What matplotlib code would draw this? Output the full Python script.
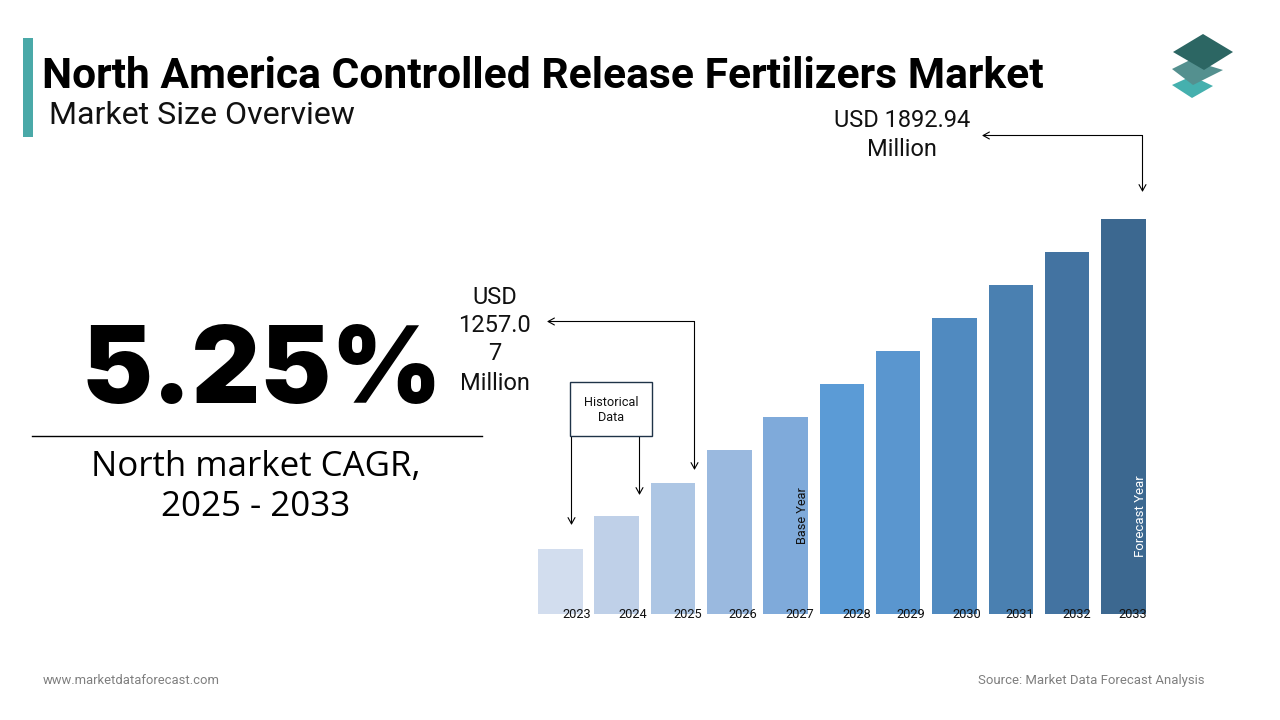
import matplotlib
matplotlib.use("Agg")
import matplotlib.pyplot as plt
from matplotlib.patches import Polygon, Rectangle
from matplotlib.transforms import ScaledTranslation

years = [2023, 2024, 2025, 2026, 2027, 2028, 2029, 2030, 2031, 2032, 2033]
values = [1098.0, 1177.5, 1257.07, 1336.5, 1416.0, 1495.5, 1575.0, 1654.5, 1734.0, 1813.5, 1892.94]
bar_colors = ["#d2ddee", "#bfd0e8", "#adc6e4", "#9ab9df", "#7faada", "#5b9bd6",
              "#5a96cf", "#508ac0", "#4a80b1", "#4373a1", "#3c6890"]
label_offsets_px = [16.5, 16.5, 14.5, 14, 14.5, 15, 12.5, 12.5, 9, 10, 9.5]

W, H = 1280, 720
plt.rcParams['font.family'] = ['Roboto', 'DejaVu Sans']
fig = plt.figure(figsize=(W / 100, H / 100), dpi=100, facecolor='white')

# overlay in pixel coordinates (y down)
ov = fig.add_axes([0, 0, 1, 1], zorder=3)
ov.set_xlim(0, W)
ov.set_ylim(H, 0)
ov.axis('off')
ov.patch.set_alpha(0)

# chart axes
x0, x1 = 532, 1152
ytop, ybase = 200, 614
ax = fig.add_axes([x0 / W, 1 - ybase / H, (x1 - x0) / W, (ybase - ytop) / H], zorder=2)
ppx = 56.3
ax.set_xlim(2023 - (560.4 - x0) / ppx, 2023 + (x1 - 560.4) / ppx)
ax.set_ylim(941.6, 941.6 + (ybase - ytop) * 2.408)
ax.bar(years, values, width=0.79, color=bar_colors, bottom=0)
for s in ax.spines.values():
    s.set_visible(False)
ax.set_yticks([])
ax.set_xticks(years)
ax.set_xticklabels([str(y) for y in years], fontsize=9.2, color='#111111')
ax.tick_params(axis='x', length=0, pad=-4.6)
for lab, off in zip(ax.get_xticklabels(), label_offsets_px):
    lab.set_transform(lab.get_transform() + ScaledTranslation(off / 100, 0, fig.dpi_scale_trans))
ax.patch.set_alpha(0)

# header
ov.add_patch(Rectangle((23, 38), 10, 99, color='#4aa9a8', lw=0))
ov.text(42, 76, "North America Controlled Release Fertilizers Market", fontsize=30.7,
        fontweight='bold', va='center', ha='left', color='black')
ov.text(49, 115, "Market Size Overview", fontsize=23.1, va='center', ha='left', color='#111111')

# logo
ov.add_patch(Polygon([(1172, 85), (1192, 76), (1213, 86), (1192, 98)], closed=True, color='#45b0ae', lw=0))
ov.add_patch(Polygon([(1172, 69), (1190, 60), (1223, 70), (1193, 85)], closed=True, color='#54908f', lw=0))
ov.add_patch(Polygon([(1173, 52), (1203, 34), (1233, 52), (1204, 70)], closed=True, color='#2c6663', lw=0))

# CAGR block
ov.text(261.5, 375, "5.25%", fontsize=76.5, fontweight='black', family=['Inter', 'Roboto'],
        va='center', ha='center', color='black')
ov.plot([32, 482], [436, 436], color='black', lw=1)
ov.text(256, 467, "North market CAGR,", fontsize=25.1, family=['Open Sans'], va='center', ha='center', color='black')
ov.text(256, 507, "2025 - 2033", fontsize=25.1, family=['Open Sans'], va='center', ha='center', color='black')


def arrow(pts, color='black'):
    xs, ys = zip(*pts)
    ov.plot(xs[:-1], ys[:-1], color=color, lw=1)
    ov.annotate("", xy=pts[-1], xytext=pts[-2],
                arrowprops=dict(arrowstyle='->,head_length=0.45,head_width=0.25', lw=0.8, color=color,
                                shrinkA=0, shrinkB=0))


# annotations
arrow([(1142.5, 135.5), (982, 135.5)])
arrow([(1142.5, 135.5), (1142.5, 192)])
arrow([(694.5, 321.5), (547, 321.5)])
arrow([(694.5, 321.5), (694.5, 470)])
arrow([(571.5, 436), (571.5, 525)])
arrow([(639.5, 436), (639.5, 495)])

ov.add_patch(Rectangle((570, 382), 82, 54, fc='white', ec='#1f3348', lw=1, zorder=4))
ov.text(611, 402, "Historical", fontsize=9.2, ha='center', va='center', color='#111111', zorder=5)
ov.text(611, 417.5, "Data", fontsize=9.2, ha='center', va='center', color='#111111', zorder=5)

for t, y in [("USD 1892.94", 120.5), ("Million", 149.5)]:
    ov.text(902, y, t, fontsize=17.0, ha='center', va='center', color='#111111')
for t, y in [("USD", 297), ("1257.0", 325), ("7", 353), ("Million", 383)]:
    ov.text(494.5, y, t, fontsize=17.0, ha='center', va='center', color='#111111')

ov.text(802, 516, "Base Year", fontsize=9.2, rotation=90, ha='center', va='center', color='#111111')
ov.text(1141, 516, "Forecast Year", fontsize=9.5, rotation=90, ha='center', va='center', color='white')

# footer
ov.text(43, 680.5, "www.marketdataforecast.com", fontsize=9.4, ha='left', va='center', color='#7f7f7f')
ov.text(1204, 680.5, "Source: Market Data Forecast Analysis", fontsize=9.45, ha='right', va='center', color='#7f7f7f')

fig.savefig("out.png", dpi=100)
